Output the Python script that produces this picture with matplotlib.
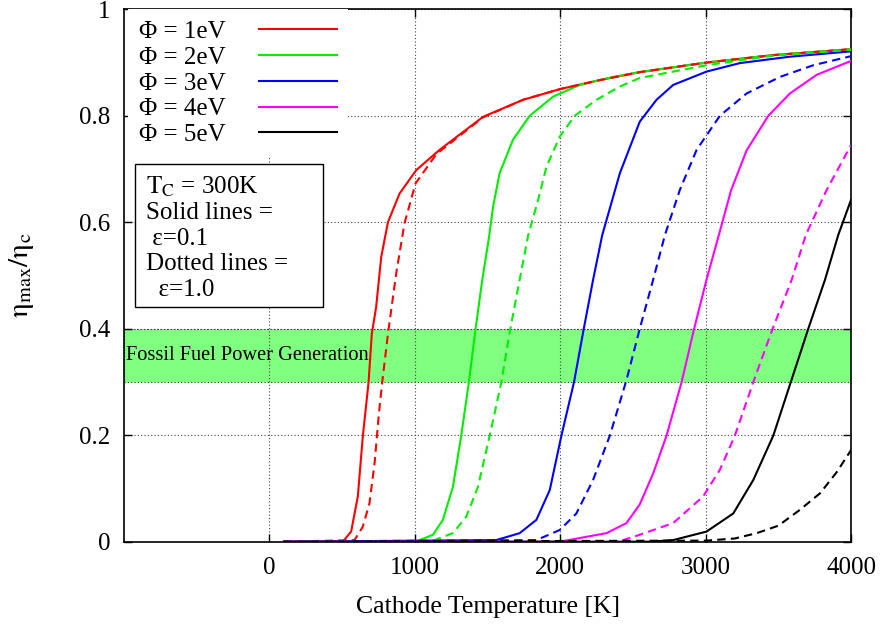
import matplotlib
matplotlib.use("Agg")
import matplotlib.pyplot as plt
from matplotlib.lines import Line2D
from matplotlib.patches import Rectangle

plt.rcParams["font.family"] = ["Liberation Serif", "DejaVu Serif"]
plt.rcParams["mathtext.fontset"] = "stix"

# work functions and colours
phi_labels = ["Φ = 1eV", "Φ = 2eV", "Φ = 3eV", "Φ = 4eV", "Φ = 5eV"]
colors = ["#ff0000", "#00ee00", "#0000ff", "#ff00ff", "#000000"]

# solid lines: emissivity 0.1
t_solid_1 = [100, 505, 562, 608, 642, 682, 704, 734, 769, 815, 895, 1010, 1170, 1469, 1744, 1997, 2272, 2547, 3006, 3465, 4000]
eta_solid_1 = [0, 0, 0.019, 0.085, 0.197, 0.30, 0.39, 0.441, 0.535, 0.60, 0.654, 0.698, 0.736, 0.798, 0.830, 0.850, 0.867, 0.882, 0.900, 0.914, 0.925]
t_solid_2 = [100, 1000, 1033, 1125, 1193, 1262, 1319, 1372, 1418, 1464, 1512, 1538, 1583, 1675, 1790, 1951, 2134, 2364, 2547, 3006, 3465, 4000]
eta_solid_2 = [0, 0, 0.003, 0.013, 0.041, 0.103, 0.199, 0.30, 0.40, 0.492, 0.575, 0.629, 0.692, 0.755, 0.80, 0.836, 0.858, 0.873, 0.882, 0.900, 0.914, 0.925]
t_solid_3 = [100, 1560, 1721, 1836, 1928, 2008, 2095, 2162, 2226, 2289, 2410, 2547, 2662, 2777, 3006, 3236, 3580, 4000]
eta_solid_3 = [0, 0.003, 0.016, 0.041, 0.097, 0.199, 0.30, 0.40, 0.492, 0.576, 0.692, 0.789, 0.830, 0.858, 0.883, 0.899, 0.911, 0.921]
t_solid_4 = [100, 1997, 2318, 2456, 2547, 2639, 2731, 2835, 2921, 3006, 3100, 3175, 3282, 3431, 3580, 3764, 4000]
eta_solid_4 = [0, 0, 0.016, 0.035, 0.070, 0.128, 0.199, 0.30, 0.40, 0.492, 0.585, 0.66, 0.735, 0.80, 0.842, 0.877, 0.903]
t_solid_5 = [100, 2616, 2777, 3006, 3190, 3328, 3465, 3586, 3706, 3821, 3912, 4000]
eta_solid_5 = [0, 0, 0.003, 0.019, 0.053, 0.116, 0.199, 0.30, 0.40, 0.492, 0.576, 0.642]

# dashed lines: emissivity 1.0
t_dash_1 = [100, 585, 642, 688, 723, 753, 776, 815, 872, 929, 1005, 1148, 1469, 1744, 1997, 2272, 2547, 3006, 3465, 4000]
eta_dash_1 = [0, 0.003, 0.028, 0.072, 0.147, 0.241, 0.30, 0.39, 0.504, 0.598, 0.673, 0.728, 0.797, 0.830, 0.850, 0.867, 0.882, 0.900, 0.914, 0.925]
t_dash_2 = [100, 1125, 1262, 1354, 1434, 1515, 1595, 1657, 1721, 1779, 1848, 1905, 1997, 2100, 2249, 2410, 2547, 3006, 3465, 4000]
eta_dash_2 = [0, 0.002, 0.016, 0.047, 0.103, 0.199, 0.30, 0.40, 0.492, 0.575, 0.642, 0.704, 0.761, 0.80, 0.830, 0.855, 0.871, 0.895, 0.913, 0.924]
t_dash_3 = [100, 1836, 1997, 2111, 2226, 2341, 2456, 2547, 2639, 2720, 2823, 2938, 3098, 3282, 3511, 3741, 4000]
eta_dash_3 = [0, 0.003, 0.022, 0.053, 0.116, 0.199, 0.304, 0.40, 0.492, 0.576, 0.661, 0.736, 0.80, 0.842, 0.873, 0.895, 0.912]
t_dash_4 = [100, 2400, 2547, 2777, 2983, 3098, 3201, 3328, 3461, 3592, 3689, 3833, 4000]
eta_dash_4 = [0, 0, 0.013, 0.035, 0.085, 0.135, 0.199, 0.30, 0.40, 0.492, 0.576, 0.661, 0.745]
t_dash_5 = [100, 3006, 3200, 3351, 3500, 3649, 3787, 3900, 4000]
eta_dash_5 = [0, 0.002, 0.006, 0.016, 0.03, 0.06, 0.091, 0.13, 0.172]

solid = [(t_solid_1, eta_solid_1), (t_solid_2, eta_solid_2), (t_solid_3, eta_solid_3),
         (t_solid_4, eta_solid_4), (t_solid_5, eta_solid_5)]
dashed = [(t_dash_1, eta_dash_1), (t_dash_2, eta_dash_2), (t_dash_3, eta_dash_3),
          (t_dash_4, eta_dash_4), (t_dash_5, eta_dash_5)]

band_low, band_high = 0.3, 0.4

fig = plt.figure(figsize=(8.84, 6.25), dpi=100)
ax = fig.add_axes([0.1403, 0.1333, 0.8224, 0.8518])

ax.axhspan(band_low, band_high, facecolor="#80ff80", edgecolor="#333333",
           linestyle=(0, (1, 2)), linewidth=0.8, zorder=0.5)
ax.text(-985, 0.35, "Fossil Fuel Power Generation", fontsize=14.7, va="center", ha="left", zorder=1)

for (t, e), c in zip(solid, colors):
    ax.plot(t, e, color=c, linewidth=1.5, zorder=3)
for (t, e), c in zip(dashed, colors):
    ax.plot(t, e, color=c, linewidth=1.5, dashes=(4, 2.5), zorder=3)

ax.set_xlim(-1000, 4000)
ax.set_ylim(0, 1)
ax.set_xticks([0, 1000, 2000, 3000, 4000])
ax.set_yticks([0, 0.2, 0.4, 0.6, 0.8, 1])
ax.set_yticklabels(["0", "0.2", "0.4", "0.6", "0.8", "1"])
ax.tick_params(direction="in", length=6, width=1, labelsize=18, top=True, right=True)
ax.tick_params(axis="x", pad=11)
ax.tick_params(axis="y", pad=10)
ax.grid(True, color="#444444", linestyle=(0, (1, 2)), linewidth=0.8)
ax.set_axisbelow(True)
for s in ax.spines.values():
    s.set_linewidth(1.2)

ax.set_xlabel("Cathode Temperature [K]", fontsize=18.5, labelpad=12)
ax.set_ylabel(r"$\mathrm{\eta_{max}/\eta_c}$", fontsize=21, labelpad=31)

handles = [Line2D([], [], color=c, linewidth=1.5) for c in colors]
leg = ax.legend(handles, phi_labels, loc="upper left", bbox_to_anchor=(0.005, 1.0),
                fontsize=18, markerfirst=False, handlelength=3.1, handletextpad=1.35,
                labelspacing=0.13, borderpad=0.45, borderaxespad=0.0,
                frameon=True, fancybox=False, framealpha=1.0)
leg.get_frame().set_edgecolor("none")
leg.set_zorder(5)

# parameter box
ax.add_patch(Rectangle((0.0151, 0.4408), 0.2586, 0.2686, transform=ax.transAxes,
                       facecolor="white", edgecolor="black", linewidth=1, zorder=6))
ax.text(0.0303, 0.690, "$\\mathrm{T_C}$ = 300K\nSolid lines =\n ε=0.1\nDotted lines =\n  ε=1.0",
        transform=ax.transAxes, fontsize=18, va="top", ha="left", linespacing=1.2, zorder=7)

fig.savefig("out.png", dpi=100)
